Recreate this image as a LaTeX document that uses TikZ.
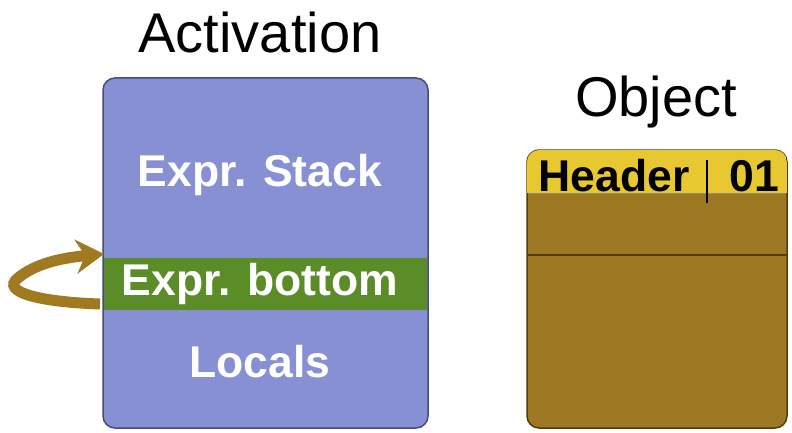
\documentclass[tikz,border=0pt]{standalone}
\usepackage{tikz}
\usetikzlibrary{arrows.meta, positioning, calc}
\usepackage{fontspec}
\setmainfont{Liberation Sans}
\definecolor{actblue}{RGB}{136,144,212}
\definecolor{actedge}{RGB}{70,76,120}
\definecolor{exprgreen}{RGB}{90,140,40}
\definecolor{hdryellow}{RGB}{232,200,48}
\definecolor{objbrown}{RGB}{158,120,36}
\definecolor{objedge}{RGB}{80,60,15}
\definecolor{loopbrown}{RGB}{160,122,32}
\tikzset{
  title/.style   = {font=\fontsize{56}{62}\selectfont, text=black},
  label/.style   = {font=\bfseries\fontsize{44.5}{48}\selectfont, text=white},
  frame/.style   = {rounded corners=12pt, line width=1.5pt},
  loop/.style    = {-{Stealth[length=28pt, width=34pt]}, line width=11pt, color=loopbrown},
}

\begin{document}
\begin{tikzpicture}[x=1pt, y=-1pt]
  \useasboundingbox (0,0) rectangle (792,433);

  % activation frame
  \node[title] (acttitle) at (260,32) {Activation};
  \fill[actblue, draw=actedge, frame] (103,78) rectangle (428,428);
  \fill[exprgreen] (104,258) rectangle (427,310);
  \coordinate (bottomin) at (104,254);
  \node[label] (stack) at (260,175) {Expr. Stack};
  \node[label] (bottom) at (260,284) {Expr. bottom};
  \node[label] (locals) at (260,362) {Locals};

  % object
  \node[title] (objtitle) at (656,102) {Object};
  \fill[objbrown, draw=objedge, frame] (527,150) rectangle (787,428);
  \begin{scope}
    \clip[rounded corners=12pt] (527,150) rectangle (787,428);
    \fill[hdryellow] (527,150) rectangle (787,193);
  \end{scope}
  \draw[objedge, line width=1.5pt] (527,255) -- (787,255);
  \draw[objedge!60, line width=1pt] (528,193) -- (786,193);
  \node[label, text=black, anchor=west] (header) at (535,176) {Header};
  \draw[black, line width=2.5pt] (707,160) -- (707,203);
  \node[label, text=black, anchor=east] (tag) at (783,176) {01};

  % loop back arrow
  \coordinate (loopstart) at (100,304);
  \draw[loop] (loopstart) .. controls (40,302) and (0,292) .. (18,278)
              .. controls (35,264) and (60,258) .. (bottomin);
\end{tikzpicture}
\end{document}
